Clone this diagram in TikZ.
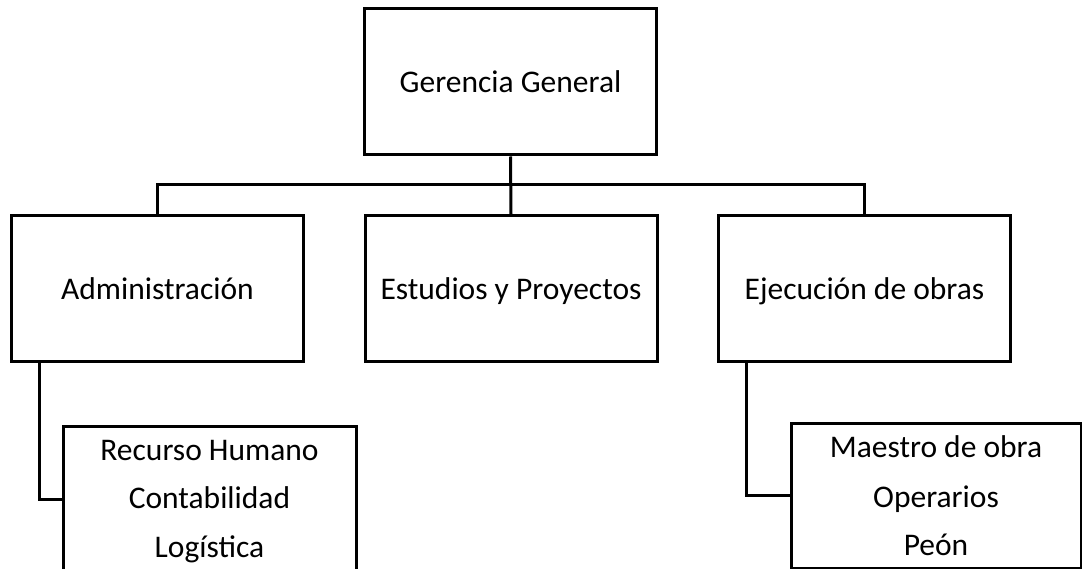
\documentclass[tikz,border=0pt]{standalone}
\usepackage{fontspec}
\setmainfont{Carlito}
\begin{document}
\begin{tikzpicture}[x=1pt,y=1pt,
  orgbox/.style={draw=black,line width=3pt,rectangle,inner sep=0pt,
    minimum width=292pt,minimum height=146pt,
    font=\fontsize{31.5pt}{37pt}\selectfont,text height=21pt,text depth=0pt},
  subbox/.style={draw=black,line width=3pt,rectangle,inner sep=0pt,
    minimum height=145pt},
  item/.style={anchor=base,inner sep=0pt,font=\fontsize{31.5pt}{37pt}\selectfont},
  link/.style={draw=black,line width=3pt}]
\useasboundingbox (0,0) rectangle (1082,-569);
\clip (0,0) rectangle (1082,-569);
\fill[white] (0,0) rectangle (1082,-569);

\node[orgbox] (top) at (510.5,-82) {Gerencia General};
\node[orgbox] (admin) at (157.5,-289) {Administración};
\node[orgbox] (mid) at (511,-289) {Estudios y Proyectos};
\node[orgbox] (ejec) at (864.5,-289) {Ejecución de obras};

\node[subbox,minimum width=293pt] (rh) at (209.5,-499) {};
\node[subbox,minimum width=290pt] (mo) at (936,-495.5) {};

\node[item] (rh1) at (209.5,-460) {Recurso Humano};
\node[item] (rh2) at (209.5,-508) {Contabilidad};
\node[item] (rh3) at (209.5,-557) {Logística};

\node[item] (mo1) at (936,-457) {Maestro de obra};
\node[item] (mo2) at (936,-507) {Operarios};
\node[item] (mo3) at (936,-555) {Peón};

\coordinate (bus) at (0,-185);
\draw[link] (admin.north) |- (bus -| top.south) -| (ejec.north);
\draw[link] (top.south) -- (mid.north);
\draw[link] ([xshift=29pt]admin.south west) |- (rh.west);
\draw[link] ([xshift=29pt]ejec.south west) |- (mo.west);
\end{tikzpicture}
\end{document}
